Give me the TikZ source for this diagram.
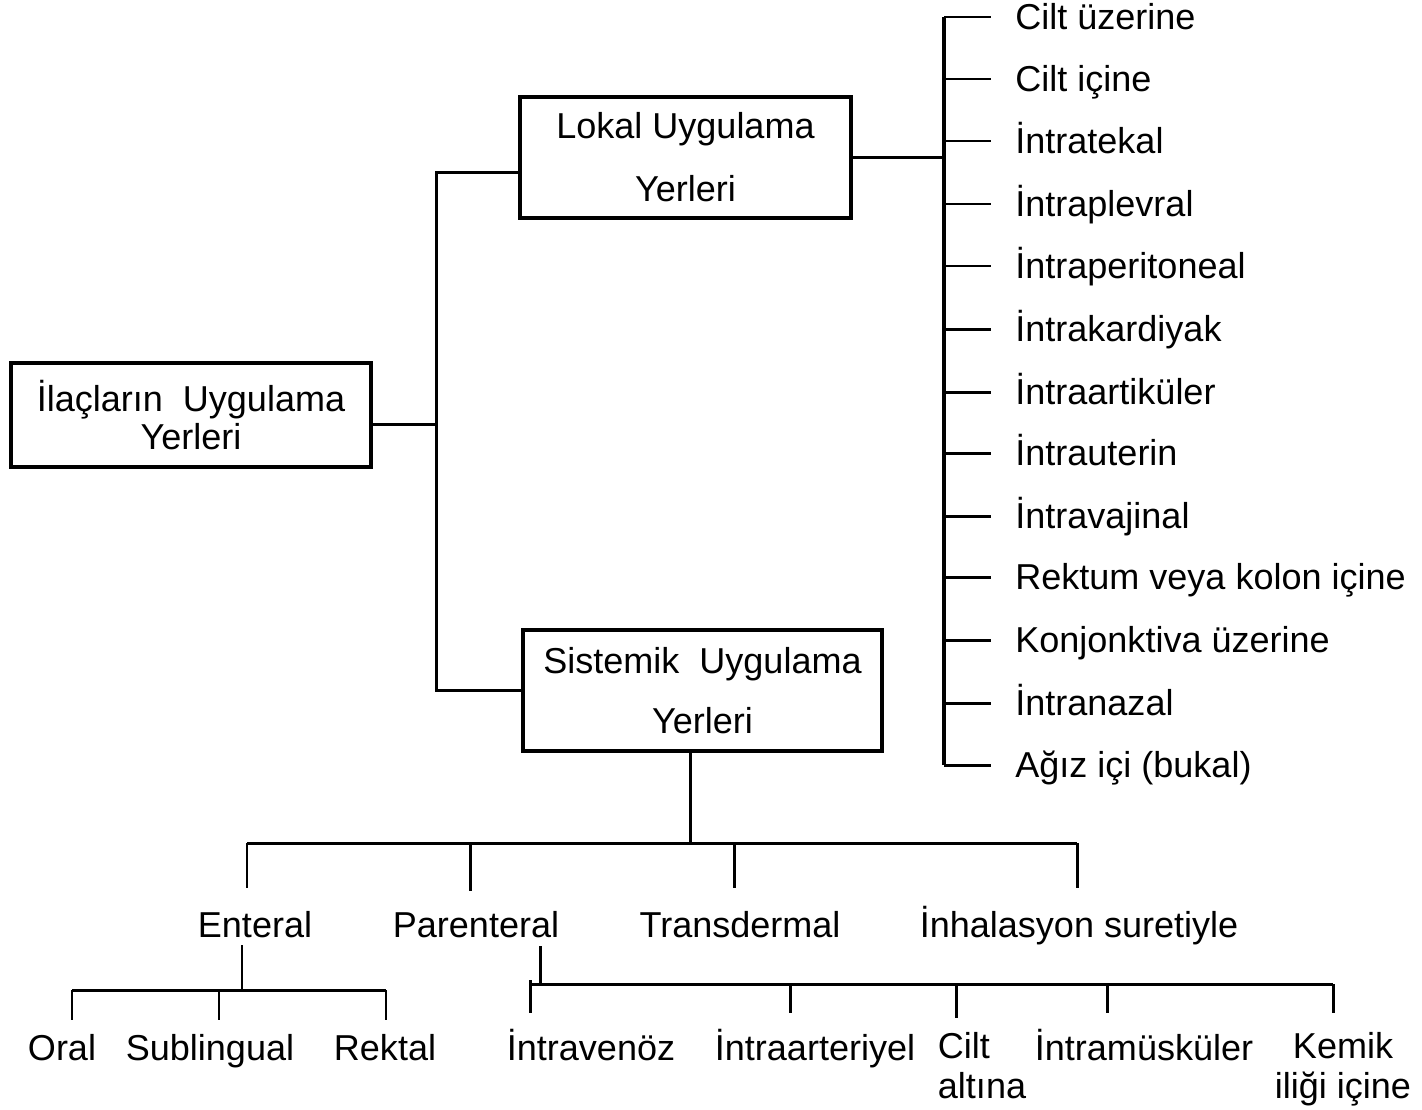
\documentclass[tikz,border=0pt]{standalone}
\usepackage{fontspec}
\setmainfont{Liberation Sans}
\usetikzlibrary{positioning}

\begin{document}
\begin{tikzpicture}[x=0.02cm, y=-0.02cm,
  font=\fontsize{20.5}{25}\selectfont,
  kutu/.style={draw, line width=2.2pt, align=center, inner sep=0pt},
  yer/.style={inner sep=0pt, text height=0.6cm, text depth=0.1cm},
  dal/.style={line width=1.7pt},
  kalin/.style={line width=2.2pt}]

\useasboundingbox (0,0) rectangle (1422,1109);

%the three boxes
\node[kutu, minimum width=7.2cm, minimum height=2.08cm] (ilac) at (191,415) {İlaçların~~Uygulama\\[-3.4pt]Yerleri};
\node[kutu, minimum width=6.62cm, minimum height=2.42cm] (lokal) at (685.5,157.5) {Lokal Uygulama\\[10.8pt]Yerleri};
\node[kutu, minimum width=7.18cm, minimum height=2.42cm] (sistemik) at (702.5,690.5) {Sistemik~~Uygulama\\[9.1pt]Yerleri};

%trunk between the boxes
\coordinate (govde) at (436,0);
\coordinate (ilac-cik) at ([yshift=-0.18cm]ilac.east);
\coordinate (lokal-gir) at ([yshift=-0.3cm]lokal.west);
\draw[dal] (ilac-cik) -- (ilac-cik -| govde);
\draw[dal] (lokal-gir) -| (govde |- sistemik.west) -- (sistemik.west);

%local sites, right column
\node[yer, anchor=west] (l1) at (1015,17) {Cilt üzerine};
\node[yer, anchor=west] (l2) at (1015,79) {Cilt içine};
\node[yer, anchor=west] (l3) at (1015,141) {İntratekal};
\node[yer, anchor=west] (l4) at (1015,204) {İntraplevral};
\node[yer, anchor=west] (l5) at (1015,266) {İntraperitoneal};
\node[yer, anchor=west] (l6) at (1015,329) {İntrakardiyak};
\node[yer, anchor=west] (l7) at (1015,392) {İntraartiküler};
\node[yer, anchor=west] (l8) at (1015,453) {İntrauterin};
\node[yer, anchor=west] (l9) at (1015,516) {İntravajinal};
\node[yer, anchor=west] (l10) at (1015,577) {Rektum veya kolon içine};
\node[yer, anchor=west] (l11) at (1015,640) {Konjonktiva üzerine};
\node[yer, anchor=west] (l12) at (1015,703) {İntranazal};
\node[yer, anchor=west] (l13) at (1015,765) {Ağız içi (bukal)};

\coordinate (omurga) at (944,0);
\coordinate (uc) at (991,0);
\draw[dal] (lokal.east) -- (lokal.east -| omurga);
\draw[kalin] (l1.west -| omurga) -- (l13.west -| omurga);
\draw[dal] (l1.west -| omurga) -- (l1.west -| uc);
\draw[dal] (l2.west -| omurga) -- (l2.west -| uc);
\draw[dal] (l3.west -| omurga) -- (l3.west -| uc);
\draw[dal] (l4.west -| omurga) -- (l4.west -| uc);
\draw[dal] (l5.west -| omurga) -- (l5.west -| uc);
\draw[dal] (l6.west -| omurga) -- (l6.west -| uc);
\draw[dal] (l7.west -| omurga) -- (l7.west -| uc);
\draw[dal] (l8.west -| omurga) -- (l8.west -| uc);
\draw[dal] (l9.west -| omurga) -- (l9.west -| uc);
\draw[dal] (l10.west -| omurga) -- (l10.west -| uc);
\draw[dal] (l11.west -| omurga) -- (l11.west -| uc);
\draw[dal] (l12.west -| omurga) -- (l12.west -| uc);
\draw[dal] (l13.west -| omurga) -- (l13.west -| uc);

%systemic routes
\node[yer] (enteral) at (255,925) {Enteral};
\node[yer] (parenteral) at (476,925) {Parenteral};
\node[yer] (transdermal) at (740,925) {Transdermal};
\node[yer] (inhalasyon) at (1079,925) {İnhalasyon suretiyle};

\coordinate (sis-cik) at ([xshift=-0.25cm]sistemik.south);
\coordinate (ust-hat) at (0,843);
\coordinate (d1) at (247,888);
\coordinate (d2) at (470,891);
\coordinate (d3) at (734,888);
\coordinate (d4) at (1077,888);
\draw[dal] (sis-cik) -- (sis-cik |- ust-hat);
\draw[dal] (d1 |- ust-hat) -- (d4 |- ust-hat);
\draw[dal] (d1 |- ust-hat) -- (d1);
\draw[dal] (d2 |- ust-hat) -- (d2);
\draw[dal] (d3 |- ust-hat) -- (d3);
\draw[dal] (d4 |- ust-hat) -- (d4);

%enteral branch
\node[yer] (oral) at (62,1048) {Oral};
\node[yer] (sublingual) at (210,1048) {Sublingual};
\node[yer] (rektal) at (385,1048) {Rektal};

\coordinate (e0) at (242,945);
\coordinate (alt-e) at (0,990);
\coordinate (o1) at (72,1020);
\coordinate (o2) at (219,1020);
\coordinate (o3) at (386,1020);
\draw[dal] (e0) -- (e0 |- alt-e);
\draw[dal] (o1 |- alt-e) -- (o3 |- alt-e);
\draw[dal] (o1 |- alt-e) -- (o1);
\draw[dal] (o2 |- alt-e) -- (o2);
\draw[dal] (o3 |- alt-e) -- (o3);

%parenteral branch
\node[yer] (iv) at (591,1048) {İntravenöz};
\node[yer] (ia) at (815,1048) {İntraarteriyel};
\node[yer, align=left] (sc) at (982,1086) {Cilt\\[-2.5pt]altına};
\node[yer] (im) at (1144,1048) {İntramüsküler};
\node[yer, align=center] (kemik) at (1343,1086) {Kemik\\[-2.5pt]iliği içine};

\coordinate (p0) at (540,946);
\coordinate (alt-p) at (0,984);
\coordinate (p1) at (530,1013);
\coordinate (p2) at (790,1013);
\coordinate (p3) at (956,1018);
\coordinate (p4) at (1107,1013);
\coordinate (p5) at (1333,1013);
\draw[dal] (p0) -- (p0 |- alt-p);
\draw[dal] (p1 |- alt-p) -- (p5 |- alt-p);
\draw[dal] ([yshift=0.08cm]p1 |- alt-p) -- (p1);
\draw[dal] (p2 |- alt-p) -- (p2);
\draw[dal] (p3 |- alt-p) -- (p3);
\draw[dal] (p4 |- alt-p) -- (p4);
\draw[dal] (p5 |- alt-p) -- (p5);

\end{tikzpicture}
\end{document}
